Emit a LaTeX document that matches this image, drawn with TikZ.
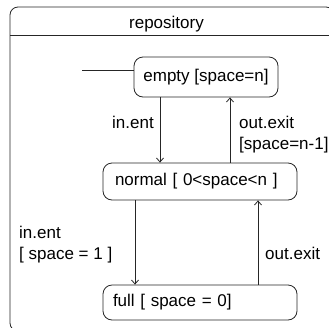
\documentclass[tikz,border=0pt]{standalone}
\usepackage{fontspec}
\setmainfont{Liberation Sans}
\usetikzlibrary{arrows.meta}
\begin{document}
\begin{tikzpicture}[x=1pt,y=-1pt,
  every node/.style={font=\fontsize{17}{21}\selectfont, inner sep=0pt},
  line/.style={draw=black!85, line width=0.8pt},
  state/.style={line, rounded corners=9pt, anchor=center},
  arr/.style={line, -{Straight Barb[length=4pt,width=7pt]}},
  lbl/.style={anchor=base west}]
\useasboundingbox (0,0) rectangle (329,327);

% enclosing composite state, running past the page edge
\begin{scope}
  \clip (0,0) rectangle (329,327);
  \draw[line, rounded corners=8pt] (10,7) rectangle (334,331);
  \draw[line] (10,35) -- (334,35);
\end{scope}
\node[anchor=base] (title) at (166.5,28) {repository};

% states
\node[state, minimum width=144pt, minimum height=40pt] (empty) at (206,77) {empty [space=n]};
\node[state, minimum height=37pt, text width=170pt, inner xsep=12pt, align=left] (normal) at (200,181.5) {normal [ 0<space<n ]};
\node[state, minimum height=35pt, text width=174pt, inner xsep=10pt, align=left] (full) at (200,302.5) {full [ space = 0]};

% initial transition
\coordinate (init) at (82,70);
\draw[line] (init) -- (init -| empty.west);

% transition columns
\coordinate (xa) at (160,0);
\coordinate (xb) at (230,0);
\coordinate (xc) at (135,0);
\coordinate (xd) at (258,0);

\draw[arr] (empty.south -| xa) -- (normal.north -| xa);
\draw[arr] (normal.north -| xb) -- (empty.south -| xb);
\draw[arr] (normal.south -| xc) -- (full.north -| xc);
\draw[arr] (full.north -| xd) -- (normal.south -| xd);

% transition labels
\node[lbl] (ina) at (112,128) {in.ent};
\node[lbl] (outa) at (239,128) {out.exit};
\node[lbl] (outag) at (239,149) {[space=n-1]};
\node[lbl] (inb) at (19,238) {in.ent};
\node[lbl] (inbg) at (19,259) {[ space = 1 ]};
\node[lbl] (outb) at (265,259) {out.exit};
\end{tikzpicture}
\end{document}
